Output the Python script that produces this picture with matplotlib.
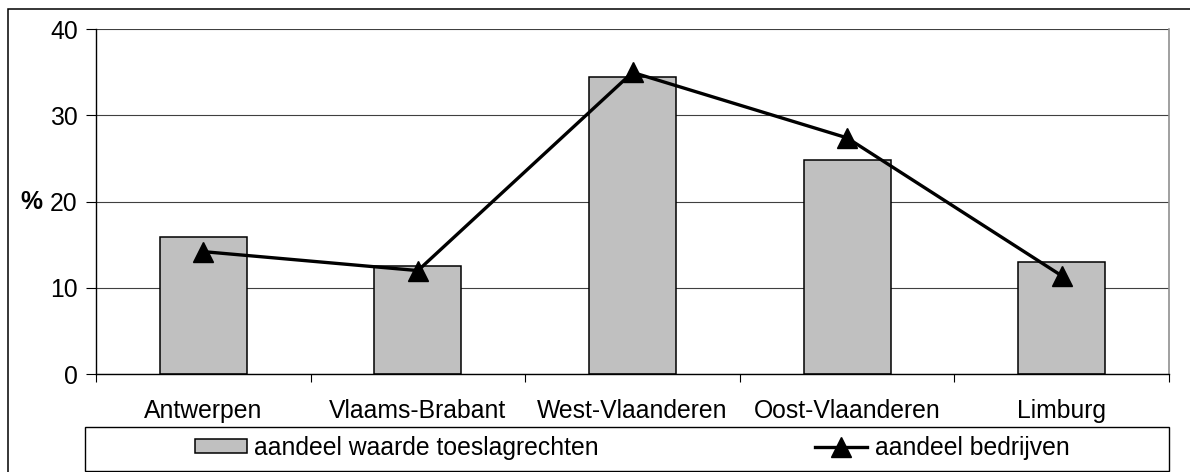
import matplotlib
matplotlib.use("Agg")
import matplotlib.pyplot as plt
from matplotlib.patches import Rectangle
import numpy as np

categories = ["Antwerpen", "Vlaams-Brabant", "West-Vlaanderen", "Oost-Vlaanderen", "Limburg"]
waarde_toeslagrechten = [15.9, 12.5, 34.5, 24.8, 13.0]
bedrijven = [14.2, 12.0, 35.0, 27.4, 11.4]
yticks = [0, 10, 20, 30, 40]
series_labels = ["aandeel waarde toeslagrechten", "aandeel bedrijven"]

plt.rcParams['font.family'] = ['Liberation Sans', 'DejaVu Sans']
FS = 17.8

W, H = 1190, 472
fig = plt.figure(figsize=(W / 100, H / 100), dpi=100)

def fx(px):
    return px / W

def fy(py):
    return 1 - py / H

ax = fig.add_axes([fx(96), fy(374), fx(1169) - fx(96), fy(29.3) - fy(374)])

x = np.arange(len(categories))
bars = ax.bar(x, waarde_toeslagrechten, width=0.405, color='#c0c0c0',
              edgecolor='black', linewidth=1.1, zorder=2, label=series_labels[0])
line, = ax.plot(x, bedrijven, color='black', linewidth=2.4, marker='^',
                markersize=14.5, zorder=3, label=series_labels[1])

ax.set_xlim(-0.5, len(categories) - 0.5)
ax.set_ylim(0, 40)
ax.set_yticks(yticks)
ax.set_yticklabels([str(v) for v in yticks], fontsize=FS)
ax.yaxis.grid(True, color='#404040', linewidth=0.8, zorder=0)
ax.set_axisbelow(True)

ax.set_xticks(np.arange(-0.5, len(categories), 1.0))
ax.set_xticklabels([])
ax.set_xticks(x, minor=True)
ax.set_xticklabels(categories, minor=True, fontsize=FS)
ax.tick_params(axis='x', which='major', direction='out', length=5.8, width=0.8, color='black')
ax.tick_params(axis='x', which='minor', length=0, pad=18)
ax.tick_params(axis='y', direction='out', length=7.2, width=0.8, color='black', pad=6)

ax.spines['top'].set_visible(False)
ax.spines['right'].set_color('#909090')
ax.spines['right'].set_linewidth(1.2)
ax.spines['left'].set_linewidth(1.0)
ax.spines['bottom'].set_linewidth(1.0)

fig.text(fx(31), fy(202), "%", fontsize=FS, fontweight='bold', ha='center', va='center')

# outer chart frame
fig.patches.append(Rectangle((fx(7.5), fy(600)), fx(1300), fy(8.5) - fy(600),
                             transform=fig.transFigure, fill=False,
                             edgecolor='black', linewidth=1.1))
# legend box
fig.patches.append(Rectangle((fx(85), fy(471)), fx(1169) - fx(85), fy(426.5) - fy(471),
                             transform=fig.transFigure, fill=False,
                             edgecolor='black', linewidth=1.0))

leg = fig.legend(handles=[bars, line], labels=series_labels, ncol=2,
                 loc='center left', bbox_to_anchor=(fx(195), fy(448)),
                 frameon=False, fontsize=FS, handlelength=2.1, handleheight=0.5,
                 handletextpad=0.3, columnspacing=8.75, borderpad=0, borderaxespad=0)

fig.savefig("out.png", dpi=100)
